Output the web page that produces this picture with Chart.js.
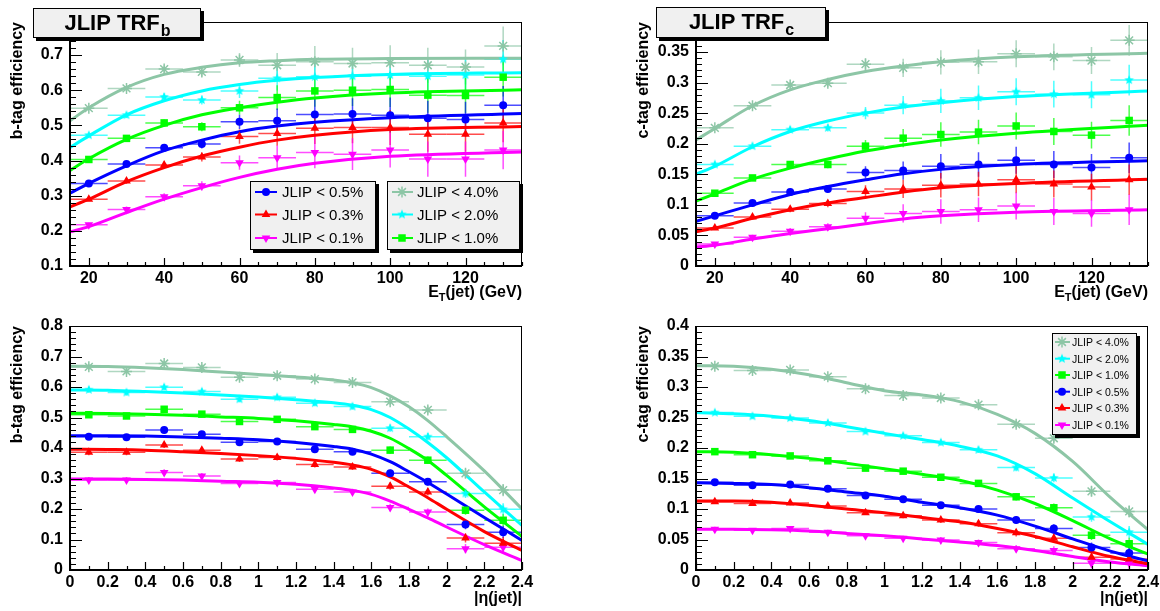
<!DOCTYPE html>
<html>
<head>
<meta charset="utf-8">
<script src="https://cdn.jsdelivr.net/npm/chart.js@4.4.1/dist/chart.umd.min.js"></script>
<style>
  html, body { margin: 0; padding: 0; background: #fff; }
  #wrap { position: relative; width: 1160px; height: 611px; overflow: hidden; }
  #wrap canvas { position: absolute; }
</style>
</head>
<body>
<div id="wrap">
  <canvas id="bEt" width="580" height="305" style="left:0;top:0"></canvas>
  <canvas id="cEt" width="580" height="305" style="left:580px;top:0"></canvas>
  <canvas id="bEta" width="580" height="306" style="left:0;top:305px"></canvas>
  <canvas id="cEta" width="580" height="306" style="left:580px;top:305px"></canvas>
</div>
<script>
const FONT = "'Liberation Sans', Arial, Helvetica, sans-serif";

const CUT_LABELS = ["JLIP < 4.0%", "JLIP < 2.0%", "JLIP < 1.0%", "JLIP < 0.5%", "JLIP < 0.3%", "JLIP < 0.1%"];
const CUT_COLORS = ["#8dc6a6", "#00ffff", "#00ff00", "#0000ff", "#ff0000", "#ff00ff"];

// bin centres and half widths
const ET_BINS = [20, 30, 40, 50, 60, 70, 80, 90, 100, 110, 120, 130];
const ET_HALF_BIN = 5;
const ETA_BINS = [0.1, 0.3, 0.5, 0.7, 0.9, 1.1, 1.3, 1.5, 1.7, 1.9, 2.1, 2.3];
const ETA_HALF_BIN = 0.1;

// tick labels
const ET_TICKS = [20, 40, 60, 80, 100, 120];
const ETA_TICKS = [0, 0.2, 0.4, 0.6, 0.8, 1, 1.2, 1.4, 1.6, 1.8, 2, 2.2, 2.4];
const B_ET_TICKS = [0.1, 0.2, 0.3, 0.4, 0.5, 0.6, 0.7];
const C_ET_TICKS = [0, 0.05, 0.1, 0.15, 0.2, 0.25, 0.3, 0.35];
const B_ETA_TICKS = [0, 0.1, 0.2, 0.3, 0.4, 0.5, 0.6, 0.7, 0.8];
const C_ETA_TICKS = [0, 0.05, 0.1, 0.15, 0.2, 0.25, 0.3, 0.35, 0.4];

// ---------- b-tag efficiency vs ET ----------
const B_ET_40 = [0.549, 0.605, 0.660, 0.652, 0.686, 0.671, 0.681, 0.676, 0.678, 0.671, 0.666, 0.726];
const B_ET_20 = [0.472, 0.529, 0.581, 0.572, 0.598, 0.634, 0.638, 0.640, 0.643, 0.640, 0.643, 0.688];
const B_ET_10 = [0.403, 0.463, 0.507, 0.496, 0.550, 0.579, 0.598, 0.600, 0.602, 0.586, 0.585, 0.637];
const B_ET_05 = [0.335, 0.390, 0.436, 0.447, 0.510, 0.513, 0.531, 0.532, 0.529, 0.520, 0.517, 0.557];
const B_ET_03 = [0.290, 0.342, 0.387, 0.410, 0.468, 0.477, 0.492, 0.494, 0.494, 0.475, 0.475, 0.507];
const B_ET_01 = [0.217, 0.261, 0.297, 0.328, 0.394, 0.408, 0.423, 0.418, 0.430, 0.404, 0.404, 0.430];
const B_ET_ERR = [0.006, 0.008, 0.010, 0.013, 0.020, 0.035, 0.045, 0.045, 0.050, 0.050, 0.050, 0.055];

const FIT_ET_X = [15, 20, 30, 40, 50, 60, 70, 80, 100, 135];
const B_ET_FIT_40 = [0.513, 0.550, 0.608, 0.645, 0.665, 0.678, 0.684, 0.688, 0.690, 0.691];
const B_ET_FIT_20 = [0.437, 0.470, 0.530, 0.570, 0.598, 0.616, 0.628, 0.636, 0.645, 0.650];
const B_ET_FIT_10 = [0.372, 0.405, 0.460, 0.500, 0.530, 0.550, 0.566, 0.578, 0.592, 0.601];
const B_ET_FIT_05 = [0.307, 0.335, 0.385, 0.428, 0.458, 0.482, 0.498, 0.509, 0.522, 0.534];
const B_ET_FIT_03 = [0.268, 0.290, 0.340, 0.380, 0.413, 0.438, 0.458, 0.472, 0.488, 0.497];
const B_ET_FIT_01 = [0.197, 0.212, 0.252, 0.290, 0.323, 0.352, 0.375, 0.392, 0.412, 0.424];

// ---------- c-tag efficiency vs ET ----------
const C_ET_40 = [0.226, 0.262, 0.296, 0.299, 0.330, 0.324, 0.333, 0.334, 0.347, 0.342, 0.336, 0.369];
const C_ET_20 = [0.166, 0.196, 0.223, 0.226, 0.250, 0.263, 0.270, 0.275, 0.285, 0.281, 0.280, 0.304];
const C_ET_10 = [0.119, 0.144, 0.166, 0.166, 0.196, 0.209, 0.215, 0.219, 0.229, 0.220, 0.214, 0.238];
const C_ET_05 = [0.082, 0.103, 0.121, 0.126, 0.153, 0.156, 0.163, 0.166, 0.173, 0.166, 0.161, 0.177];
const C_ET_03 = [0.062, 0.080, 0.093, 0.102, 0.122, 0.126, 0.132, 0.134, 0.141, 0.134, 0.129, 0.141];
const C_ET_01 = [0.036, 0.047, 0.057, 0.064, 0.078, 0.086, 0.089, 0.092, 0.098, 0.089, 0.086, 0.092];
const C_ET_ERR = [0.003, 0.004, 0.005, 0.006, 0.010, 0.015, 0.020, 0.020, 0.022, 0.022, 0.022, 0.025];

const C_ET_FIT_40 = [0.206, 0.225, 0.262, 0.288, 0.305, 0.318, 0.327, 0.334, 0.342, 0.348];
const C_ET_FIT_20 = [0.150, 0.163, 0.195, 0.220, 0.237, 0.250, 0.260, 0.267, 0.277, 0.286];
const C_ET_FIT_10 = [0.106, 0.118, 0.142, 0.160, 0.175, 0.188, 0.198, 0.206, 0.217, 0.230];
const C_ET_FIT_05 = [0.073, 0.082, 0.100, 0.117, 0.130, 0.141, 0.151, 0.158, 0.166, 0.172];
const C_ET_FIT_03 = [0.056, 0.062, 0.078, 0.092, 0.103, 0.112, 0.121, 0.128, 0.135, 0.142];
const C_ET_FIT_01 = [0.031, 0.034, 0.044, 0.053, 0.061, 0.069, 0.077, 0.082, 0.088, 0.092];

// ---------- b-tag efficiency vs |eta| ----------
const B_ETA_40 = [0.666, 0.651, 0.677, 0.664, 0.632, 0.637, 0.626, 0.615, 0.552, 0.525, 0.317, 0.262];
const B_ETA_20 = [0.591, 0.582, 0.599, 0.585, 0.560, 0.566, 0.547, 0.536, 0.465, 0.437, 0.251, 0.199];
const B_ETA_10 = [0.509, 0.505, 0.527, 0.511, 0.487, 0.494, 0.470, 0.461, 0.393, 0.360, 0.196, 0.163];
const B_ETA_05 = [0.437, 0.435, 0.459, 0.445, 0.419, 0.421, 0.396, 0.388, 0.317, 0.289, 0.149, 0.124];
const B_ETA_03 = [0.386, 0.386, 0.410, 0.393, 0.364, 0.369, 0.346, 0.338, 0.275, 0.256, 0.105, 0.088];
const B_ETA_01 = [0.295, 0.295, 0.320, 0.308, 0.284, 0.287, 0.265, 0.256, 0.205, 0.190, 0.070, 0.075];
const B_ETA_ERR = [0.010, 0.010, 0.010, 0.010, 0.010, 0.010, 0.010, 0.010, 0.012, 0.012, 0.015, 0.020];

const FIT_B_ETA_X = [0, 0.2, 0.4, 0.6, 0.8, 1.0, 1.2, 1.4, 1.5, 1.6, 1.7, 1.8, 1.9, 2.0, 2.2, 2.4];
const B_ETA_FIT_40 = [0.668, 0.667, 0.663, 0.657, 0.649, 0.641, 0.633, 0.623, 0.614, 0.598, 0.571, 0.535, 0.490, 0.437, 0.325, 0.200];
const B_ETA_FIT_20 = [0.590, 0.589, 0.585, 0.580, 0.574, 0.567, 0.558, 0.548, 0.540, 0.526, 0.500, 0.462, 0.418, 0.368, 0.256, 0.146];
const B_ETA_FIT_10 = [0.514, 0.513, 0.511, 0.507, 0.502, 0.497, 0.489, 0.477, 0.469, 0.455, 0.432, 0.398, 0.359, 0.310, 0.207, 0.110];
const B_ETA_FIT_05 = [0.440, 0.440, 0.439, 0.436, 0.432, 0.427, 0.418, 0.405, 0.396, 0.380, 0.355, 0.322, 0.287, 0.249, 0.172, 0.097];
const B_ETA_FIT_03 = [0.396, 0.395, 0.393, 0.388, 0.382, 0.375, 0.366, 0.353, 0.344, 0.330, 0.305, 0.272, 0.237, 0.199, 0.126, 0.064];
const B_ETA_FIT_01 = [0.298, 0.298, 0.297, 0.295, 0.291, 0.288, 0.281, 0.269, 0.261, 0.248, 0.226, 0.199, 0.171, 0.141, 0.083, 0.031];

// ---------- c-tag efficiency vs |eta| ----------
const C_ETA_40 = [0.334, 0.327, 0.328, 0.317, 0.297, 0.286, 0.282, 0.271, 0.239, 0.216, 0.129, 0.096];
const C_ETA_20 = [0.258, 0.252, 0.249, 0.241, 0.227, 0.220, 0.209, 0.197, 0.168, 0.151, 0.087, 0.062];
const C_ETA_10 = [0.194, 0.189, 0.187, 0.179, 0.167, 0.162, 0.152, 0.142, 0.120, 0.102, 0.057, 0.043];
const C_ETA_05 = [0.144, 0.139, 0.140, 0.133, 0.122, 0.116, 0.106, 0.100, 0.082, 0.068, 0.037, 0.028];
const C_ETA_03 = [0.112, 0.109, 0.110, 0.105, 0.094, 0.089, 0.082, 0.076, 0.061, 0.052, 0.021, 0.018];
const C_ETA_01 = [0.067, 0.065, 0.068, 0.062, 0.056, 0.052, 0.049, 0.045, 0.035, 0.032, 0.011, 0.012];
const C_ETA_ERR = [0.004, 0.004, 0.004, 0.004, 0.004, 0.004, 0.005, 0.005, 0.006, 0.007, 0.008, 0.010];

const FIT_C_ETA_X = [0, 0.2, 0.4, 0.6, 0.8, 1.0, 1.2, 1.4, 1.6, 1.8, 2.0, 2.2, 2.4];
const C_ETA_FIT_40 = [0.335, 0.334, 0.329, 0.320, 0.307, 0.294, 0.287, 0.276, 0.255, 0.224, 0.178, 0.119, 0.066];
const C_ETA_FIT_20 = [0.258, 0.256, 0.252, 0.245, 0.235, 0.224, 0.214, 0.203, 0.187, 0.158, 0.118, 0.079, 0.042];
const C_ETA_FIT_10 = [0.194, 0.193, 0.189, 0.183, 0.175, 0.166, 0.157, 0.147, 0.131, 0.109, 0.081, 0.051, 0.026];
const C_ETA_FIT_05 = [0.143, 0.142, 0.140, 0.135, 0.128, 0.121, 0.111, 0.102, 0.090, 0.072, 0.051, 0.031, 0.015];
const C_ETA_FIT_03 = [0.113, 0.113, 0.111, 0.106, 0.100, 0.094, 0.086, 0.079, 0.068, 0.055, 0.038, 0.022, 0.010];
const C_ETA_FIT_01 = [0.067, 0.067, 0.066, 0.064, 0.060, 0.056, 0.051, 0.046, 0.040, 0.032, 0.022, 0.013, 0.007];

// ================= MARKERS =================

function starImage(color, r) {
  const c = document.createElement("canvas");
  c.width = c.height = Math.ceil(r * 2 + 2);
  const g = c.getContext("2d");
  g.fillStyle = color;
  g.beginPath();
  for (let k = 0; k < 10; k++) {
    const rad = k % 2 === 0 ? r : r * 0.45;
    const ang = -Math.PI / 2 + (k * Math.PI) / 5;
    const px = c.width / 2 + rad * Math.cos(ang);
    const py = c.height / 2 + rad * Math.sin(ang);
    if (k === 0) g.moveTo(px, py);
    else g.lineTo(px, py);
  }
  g.closePath();
  g.fill();
  return c;
}

const MARKERS = [
  { style: "star", radius: 5.5, border: 1.5, rotation: 0 },
  { style: starImage(CUT_COLORS[1], 5), radius: 5, border: 0, rotation: 0 },
  { style: "rect", radius: 5.3, border: 0, rotation: 0 },
  { style: "circle", radius: 4, border: 0, rotation: 0 },
  { style: "triangle", radius: 5, border: 0, rotation: 0 },
  { style: "triangle", radius: 5, border: 0, rotation: 180 },
];

function drawMarker(ctx, i, x, y) {
  const m = MARKERS[i];
  ctx.fillStyle = CUT_COLORS[i];
  ctx.strokeStyle = CUT_COLORS[i];
  ctx.lineWidth = m.border;
  Chart.helpers.drawPoint(
    ctx,
    { pointStyle: m.style, rotation: m.rotation, radius: m.radius, borderWidth: m.border },
    x,
    y
  );
}

// ================= PLUGINS =================

const errorBars = {
  id: "errorBars",
  beforeDatasetsDraw(chart) {
    const { ctx, chartArea: a } = chart;
    const xs = chart.scales.x;
    const ys = chart.scales.y;
    ctx.save();
    ctx.beginPath();
    ctx.rect(a.left, a.top, a.right - a.left, a.bottom - a.top);
    ctx.clip();
    ctx.lineWidth = 1.5;
    ctx.globalAlpha = 0.7;
    chart.data.datasets.forEach((ds) => {
      if (!ds.errY) return;
      ctx.strokeStyle = ds.pointBackgroundColor;
      ds.data.forEach((pt, j) => {
        const px = xs.getPixelForValue(pt.x);
        const py = ys.getPixelForValue(pt.y);
        ctx.beginPath();
        ctx.moveTo(xs.getPixelForValue(pt.x - ds.errX), py);
        ctx.lineTo(xs.getPixelForValue(pt.x + ds.errX), py);
        ctx.moveTo(px, ys.getPixelForValue(pt.y - ds.errY[j]));
        ctx.lineTo(px, ys.getPixelForValue(pt.y + ds.errY[j]));
        ctx.stroke();
      });
    });
    ctx.restore();
  },
};

function minorValues(min, max, step) {
  const out = [];
  const start = Math.ceil(min / step - 1e-6);
  for (let k = start; k * step <= max + 1e-9; k++) out.push(k * step);
  return out;
}

function boxWithShadow(ctx, x, y, w, h) {
  ctx.fillStyle = "#000";
  ctx.fillRect(x + 3, y + 3, w, h);
  ctx.fillStyle = "#f0f0f0";
  ctx.fillRect(x, y, w, h);
  ctx.strokeStyle = "#000";
  ctx.lineWidth = 1;
  ctx.strokeRect(x + 0.5, y + 0.5, w - 1, h - 1);
}

function panelDecor(p) {
  return {
    id: "panelDecor",
    afterDraw(chart) {
      const ctx = chart.ctx;
      const a = chart.chartArea;
      const xs = chart.scales.x;
      const ys = chart.scales.y;
      ctx.save();

      // frame
      ctx.strokeStyle = "#000";
      ctx.lineWidth = 1;
      ctx.strokeRect(a.left + 0.5, a.top + 0.5, a.right - a.left - 1, a.bottom - a.top - 1);
      ctx.lineWidth = 2;
      ctx.beginPath();
      ctx.moveTo(a.left, a.top);
      ctx.lineTo(a.left, a.bottom);
      ctx.lineTo(a.right, a.bottom);
      ctx.stroke();

      // inward ticks
      ctx.lineWidth = 1.2;
      ctx.beginPath();
      minorValues(xs.min, xs.max, p.xMinor).forEach((v) => {
        const major = p.xTicks.some((t) => Math.abs(t - v) < 1e-6);
        const px = Math.round(xs.getPixelForValue(v)) + 0.5;
        ctx.moveTo(px, a.bottom);
        ctx.lineTo(px, a.bottom - (major ? 8 : 4));
      });
      minorValues(ys.min, ys.max, p.yMinor).forEach((v) => {
        const major = p.yTicks.some((t) => Math.abs(t - v) < 1e-6);
        const py = Math.round(ys.getPixelForValue(v)) + 0.5;
        ctx.moveTo(a.left, py);
        ctx.lineTo(a.left + (major ? 12 : 6), py);
      });
      ctx.stroke();

      // x axis title
      ctx.fillStyle = "#000";
      ctx.textBaseline = "alphabetic";
      ctx.textAlign = "left";
      const big = "bold 16px " + FONT;
      const small = "bold 11px " + FONT;
      const ty = a.bottom + p.xTitleDy;
      ctx.font = big;
      const w0 = ctx.measureText(p.xTitle[0]).width;
      const w2 = ctx.measureText(p.xTitle[2]).width;
      ctx.font = small;
      const w1 = ctx.measureText(p.xTitle[1]).width;
      let tx = a.right - (w0 + w1 + w2);
      ctx.font = big;
      ctx.fillText(p.xTitle[0], tx, ty);
      tx += w0;
      ctx.font = small;
      ctx.fillText(p.xTitle[1], tx, ty + 4);
      tx += w1;
      ctx.font = big;
      ctx.fillText(p.xTitle[2], tx, ty);

      // title box
      if (p.titleBox) {
        const b = p.titleBox;
        boxWithShadow(ctx, b.x, b.y, b.w, b.h);
        ctx.fillStyle = "#000";
        ctx.font = "bold 22px " + FONT;
        const wm = ctx.measureText(b.text).width;
        ctx.font = "bold 16px " + FONT;
        const ws = ctx.measureText(b.sub).width;
        let bx = b.x + (b.w - wm - ws) / 2;
        ctx.font = "bold 22px " + FONT;
        ctx.fillText(b.text, bx, b.y + 22);
        ctx.font = "bold 16px " + FONT;
        ctx.fillText(b.sub, bx + wm + 1, b.y + 28);
      }

      // legends
      (p.legends || []).forEach((lg) => {
        boxWithShadow(ctx, lg.x, lg.y, lg.w, lg.h);
        lg.items.forEach((i, r) => {
          const ry = lg.rows[r];
          ctx.strokeStyle = CUT_COLORS[i];
          ctx.lineWidth = 2;
          ctx.beginPath();
          ctx.moveTo(lg.lineX[0], ry);
          ctx.lineTo(lg.lineX[1], ry);
          ctx.stroke();
          drawMarker(ctx, i, lg.markX, ry);
          ctx.fillStyle = "#000";
          ctx.font = lg.font + "px " + FONT;
          ctx.textBaseline = "middle";
          ctx.fillText(CUT_LABELS[i], lg.textX, ry + 1);
        });
      });
      ctx.restore();
    },
  };
}

// ================= PANELS =================

function buildPanel(p) {
  const datasets = [];
  p.values.forEach((vals, i) => {
    const m = MARKERS[i];
    datasets.push({
      label: CUT_LABELS[i],
      data: p.bins.map((x, j) => ({ x: x, y: vals[j] })),
      errY: p.errors,
      errX: p.halfBin,
      showLine: false,
      pointStyle: m.style,
      pointRadius: m.radius,
      pointRotation: m.rotation,
      pointBorderWidth: m.border,
      pointBackgroundColor: CUT_COLORS[i],
      pointBorderColor: CUT_COLORS[i],
      order: 1,
    });
    datasets.push({
      label: CUT_LABELS[i] + " fit",
      data: p.fitX.map((x, j) => ({ x: x, y: p.fits[i][j] })),
      showLine: true,
      borderColor: CUT_COLORS[i],
      borderWidth: 3,
      pointRadius: 0,
      cubicInterpolationMode: "monotone",
      fill: false,
      order: 2,
    });
  });

  const tickFont = { family: FONT, size: 16, weight: "bold" };
  new Chart(document.getElementById(p.id), {
    type: "scatter",
    data: { datasets: datasets },
    options: {
      responsive: false,
      animation: false,
      devicePixelRatio: 1,
      events: [],
      layout: { padding: p.padding },
      plugins: { legend: { display: false }, tooltip: { enabled: false } },
      scales: {
        x: {
          type: "linear",
          min: p.xMin,
          max: p.xMax,
          afterBuildTicks: (s) => {
            s.ticks = p.xTicks.map((v) => ({ value: v }));
          },
          afterFit: (s) => {
            s.height = p.xAxisH;
            s.paddingLeft = 0;
            s.paddingRight = 0;
          },
          grid: { display: false, drawTicks: false },
          border: { display: false },
          ticks: {
            autoSkip: false,
            maxRotation: 0,
            padding: 3,
            color: "#000",
            font: tickFont,
            callback: (v) => String(v),
          },
        },
        y: {
          type: "linear",
          min: p.yMin,
          max: p.yMax,
          afterBuildTicks: (s) => {
            s.ticks = p.yTicks.map((v) => ({ value: v }));
          },
          afterFit: (s) => {
            s.width = 70;
            s.paddingTop = 0;
            s.paddingBottom = 0;
          },
          grid: { display: false, drawTicks: false },
          border: { display: false },
          ticks: {
            autoSkip: false,
            padding: 7,
            color: "#000",
            font: tickFont,
            callback: (v) => String(v),
          },
          title: {
            display: true,
            text: p.yTitle,
            align: "end",
            color: "#000",
            font: { family: FONT, size: 16, weight: "bold" },
            padding: { top: 8, bottom: 0 },
          },
        },
      },
    },
    plugins: [errorBars, panelDecor(p)],
  });
}

buildPanel({
  id: "bEt",
  bins: ET_BINS,
  halfBin: ET_HALF_BIN,
  values: [B_ET_40, B_ET_20, B_ET_10, B_ET_05, B_ET_03, B_ET_01],
  errors: B_ET_ERR,
  fitX: FIT_ET_X,
  fits: [B_ET_FIT_40, B_ET_FIT_20, B_ET_FIT_10, B_ET_FIT_05, B_ET_FIT_03, B_ET_FIT_01],
  xMin: 15, xMax: 135, yMin: 0.1, yMax: 0.794,
  xTicks: ET_TICKS, yTicks: B_ET_TICKS, xMinor: 5, yMinor: 0.02,
  yTitle: "b-tag efficiency",
  xTitle: ["E", "T", "(jet) (GeV)"], xTitleDy: 31,
  padding: { left: 0, top: 22, right: 58, bottom: 0 }, xAxisH: 39,
  titleBox: { x: 33, y: 8, w: 168, h: 30, text: "JLIP TRF", sub: "b" },
  legends: [
    { x: 250, y: 181, w: 126, h: 69, items: [3, 4, 5], rows: [192, 214.5, 238], font: 15, markX: 266, lineX: [255, 277], textX: 282 },
    { x: 387, y: 181, w: 133, h: 69, items: [0, 1, 2], rows: [192, 214.5, 238], font: 15, markX: 402, lineX: [392, 413], textX: 417 },
  ],
});

buildPanel({
  id: "cEt",
  bins: ET_BINS,
  halfBin: ET_HALF_BIN,
  values: [C_ET_40, C_ET_20, C_ET_10, C_ET_05, C_ET_03, C_ET_01],
  errors: C_ET_ERR,
  fitX: FIT_ET_X,
  fits: [C_ET_FIT_40, C_ET_FIT_20, C_ET_FIT_10, C_ET_FIT_05, C_ET_FIT_03, C_ET_FIT_01],
  xMin: 15, xMax: 135, yMin: 0, yMax: 0.399,
  xTicks: ET_TICKS, yTicks: C_ET_TICKS, xMinor: 5, yMinor: 0.01,
  yTitle: "c-tag efficiency",
  xTitle: ["E", "T", "(jet) (GeV)"], xTitleDy: 31,
  padding: { left: 46, top: 22, right: 12, bottom: 0 }, xAxisH: 39,
  titleBox: { x: 76, y: 7, w: 170, h: 31, text: "JLIP TRF", sub: "c" },
});

buildPanel({
  id: "bEta",
  bins: ETA_BINS,
  halfBin: ETA_HALF_BIN,
  values: [B_ETA_40, B_ETA_20, B_ETA_10, B_ETA_05, B_ETA_03, B_ETA_01],
  errors: B_ETA_ERR,
  fitX: FIT_B_ETA_X,
  fits: [B_ETA_FIT_40, B_ETA_FIT_20, B_ETA_FIT_10, B_ETA_FIT_05, B_ETA_FIT_03, B_ETA_FIT_01],
  xMin: 0, xMax: 2.4, yMin: 0, yMax: 0.8,
  xTicks: ETA_TICKS, yTicks: B_ETA_TICKS, xMinor: 0.1, yMinor: 0.02,
  yTitle: "b-tag efficiency",
  xTitle: ["|η(jet)|", "", ""], xTitleDy: 33,
  padding: { left: 0, top: 21, right: 58, bottom: 0 }, xAxisH: 41,
});

buildPanel({
  id: "cEta",
  bins: ETA_BINS,
  halfBin: ETA_HALF_BIN,
  values: [C_ETA_40, C_ETA_20, C_ETA_10, C_ETA_05, C_ETA_03, C_ETA_01],
  errors: C_ETA_ERR,
  fitX: FIT_C_ETA_X,
  fits: [C_ETA_FIT_40, C_ETA_FIT_20, C_ETA_FIT_10, C_ETA_FIT_05, C_ETA_FIT_03, C_ETA_FIT_01],
  xMin: 0, xMax: 2.4, yMin: 0, yMax: 0.4,
  xTicks: ETA_TICKS, yTicks: C_ETA_TICKS, xMinor: 0.1, yMinor: 0.01,
  yTitle: "c-tag efficiency",
  xTitle: ["|η(jet)|", "", ""], xTitleDy: 33,
  padding: { left: 46, top: 21, right: 12, bottom: 0 }, xAxisH: 41,
  legends: [
    {
      x: 472, y: 28, w: 85, h: 102, items: [0, 1, 2, 3, 4, 5],
      rows: [37, 53.7, 70, 86.7, 103, 120], font: 10.5, markX: 482, lineX: [475, 490], textX: 492,
    },
  ],
});
</script>
</body>
</html>
